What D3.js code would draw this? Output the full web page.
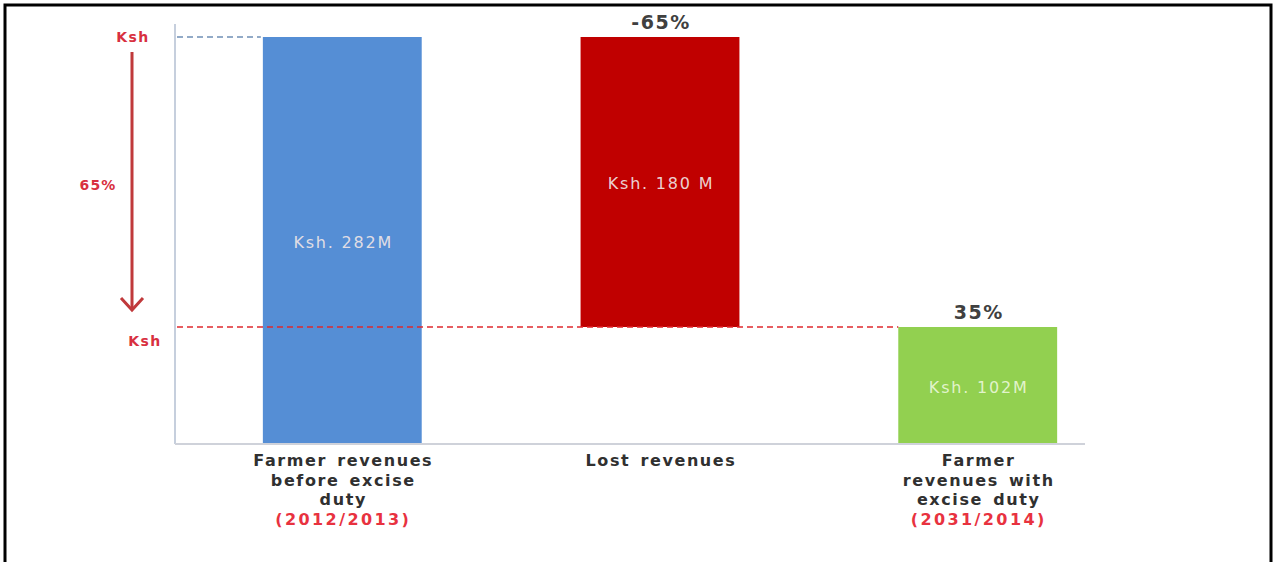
<!DOCTYPE html>
<html>
<head>
<meta charset="utf-8">
<script src="https://cdn.jsdelivr.net/npm/d3@7/dist/d3.min.js"></script>
<style>
  html, body { margin: 0; padding: 0; background: #fff; }
  svg { display: block; font-family: "DejaVu Sans", Verdana, sans-serif; }
</style>
</head>
<body>
<div id="chart"></div>
<script>
// chart data
const categories = ['before', 'lost', 'after'];
const labelLines = [
  ['Farmer revenues', 'before excise', 'duty'],
  ['Lost revenues'],
  ['Farmer', 'revenues with', 'excise duty']
];
const yearLabels = ['(2012/2013)', '', '(2031/2014)'];
const barValues = [282, 180, 102];   // Ksh millions
const barLabels = ['Ksh. 282M', 'Ksh. 180 M', 'Ksh. 102M'];
const pctLabels = ['', '-65%', '35%'];
const arrowLabel = '65%';
const colors = ['#558ed5', '#c00000', '#92d050'];

const width = 1275;
const height = 562;

const svg = d3.select('#chart')
  .append('svg')
  .attr('width', width)
  .attr('height', height);

// frame
svg.append('path')
  .attr('d', `M5,${height} V5 H1271 V${height}`)
  .attr('fill', 'none')
  .attr('stroke', '#000')
  .attr('stroke-width', 3);

// build waterfall pieces: start / end for each bar
const total = barValues[0];
const remaining = barValues[2];
const bars = [
  { key: categories[0], y0: 0, y1: total },
  { key: categories[1], y0: total - barValues[1], y1: total },
  { key: categories[2], y0: 0, y1: remaining }
];

const xScale = d3.scaleBand()
  .domain(categories)
  .range([104, 1216])
  .paddingInner(0.5)
  .paddingOuter(0.5);

// axis is truncated, the floor sits a bit above zero
const yScale = d3.scaleLinear()
  .domain([30, 282])
  .range([443, 37])
  .clamp(true);

const axisLeft = 175;
const axisRight = 1085;
const cx = d => xScale(d) + xScale.bandwidth() / 2;

// axes lines
svg.append('line')
  .attr('x1', axisLeft).attr('x2', axisLeft)
  .attr('y1', 24).attr('y2', yScale(30) + 1)
  .attr('stroke', '#c6cfdd').attr('stroke-width', 2);

svg.append('line')
  .attr('x1', axisLeft).attr('x2', axisRight)
  .attr('y1', yScale(30) + 1).attr('y2', yScale(30) + 1)
  .attr('stroke', '#cfd2da').attr('stroke-width', 2);

// bars
svg.append('g')
  .selectAll('rect')
  .data(bars)
  .join('rect')
  .attr('x', d => xScale(d.key))
  .attr('width', xScale.bandwidth())
  .attr('y', d => yScale(d.y1))
  .attr('height', d => yScale(d.y0) - yScale(d.y1))
  .attr('fill', (d, i) => colors[i]);

// dashed reference lines
svg.append('line')
  .attr('x1', axisLeft + 2).attr('x2', xScale(categories[0]) - 2)
  .attr('y1', yScale(total)).attr('y2', yScale(total))
  .attr('stroke', '#6f8fb5').attr('stroke-width', 1.5)
  .attr('stroke-dasharray', '6,4');

svg.append('line')
  .attr('x1', axisLeft + 2).attr('x2', xScale(categories[2]))
  .attr('y1', yScale(remaining)).attr('y2', yScale(remaining))
  .attr('stroke', '#e0282e').attr('stroke-width', 1.5)
  .attr('stroke-dasharray', '6,4');

// labels inside bars
svg.append('g')
  .selectAll('text')
  .data(bars)
  .join('text')
  .attr('x', d => cx(d.key) + 1)
  .attr('y', (d, i) => {
    if (i === 0) return yScale(d.y1) + 211;
    if (i === 1) return yScale(d.y1) + 152;
    return yScale(d.y1) + 66;
  })
  .attr('text-anchor', 'middle')
  .attr('font-size', 16)
  .attr('fill', (d, i) => i === 2 ? '#eaf7d8' : '#f0e6e6')
  .attr('fill-opacity', 0.92)
  .style('letter-spacing', '1.8px')
  .text((d, i) => barLabels[i]);

// percentage labels above bars
svg.append('g')
  .selectAll('text')
  .data(bars)
  .join('text')
  .attr('x', d => cx(d.key) + 1)
  .attr('y', d => yScale(d.y1) - 8)
  .attr('text-anchor', 'middle')
  .attr('font-size', 19)
  .attr('font-weight', 'bold')
  .attr('fill', '#404040')
  .style('letter-spacing', '1.5px')
  .text((d, i) => pctLabels[i]);

// category labels under the axis
const xLabels = svg.append('g')
  .selectAll('text')
  .data(categories)
  .join('text')
  .attr('y', 466)
  .attr('text-anchor', 'middle')
  .attr('font-size', 16)
  .attr('font-weight', 'bold')
  .attr('fill', '#303030')
  .style('letter-spacing', '1.6px')
  .style('word-spacing', '3px');

xLabels.each(function (d, i) {
  const t = d3.select(this);
  labelLines[i].forEach((line, j) => {
    t.append('tspan')
      .attr('x', cx(d) + 1)
      .attr('dy', j === 0 ? 0 : 19.5)
      .text(line);
  });
  if (yearLabels[i]) {
    t.append('tspan')
      .attr('x', cx(d) + 1)
      .attr('dy', 19.5)
      .attr('fill', '#e8323f')
      .style('letter-spacing', '2.4px')
      .text(yearLabels[i]);
  }
});

// left side arrow showing the drop
const arrowX = 132;
const arrowTop = yScale(total) + 15;
const arrowBottom = yScale(remaining) - 17;

svg.append('line')
  .attr('x1', arrowX).attr('x2', arrowX)
  .attr('y1', arrowTop).attr('y2', arrowBottom)
  .attr('stroke', '#c0393b').attr('stroke-width', 3);

svg.append('path')
  .attr('d', `M${arrowX - 11},${arrowBottom - 12} L${arrowX},${arrowBottom} L${arrowX + 11},${arrowBottom - 12}`)
  .attr('fill', 'none')
  .attr('stroke', '#c0393b')
  .attr('stroke-width', 3);

const redText = '#d8303f';

svg.append('text')
  .attr('x', 133).attr('y', yScale(total) + 5)
  .attr('text-anchor', 'middle')
  .attr('font-size', 14).attr('font-weight', 'bold')
  .attr('fill', redText)
  .style('letter-spacing', '1.5px')
  .text('Ksh');

svg.append('text')
  .attr('x', 145).attr('y', yScale(remaining) + 19)
  .attr('text-anchor', 'middle')
  .attr('font-size', 14).attr('font-weight', 'bold')
  .attr('fill', redText)
  .style('letter-spacing', '1.5px')
  .text('Ksh');

svg.append('text')
  .attr('x', 98).attr('y', 190)
  .attr('text-anchor', 'middle')
  .attr('font-size', 14).attr('font-weight', 'bold')
  .attr('fill', redText)
  .style('letter-spacing', '1.2px')
  .text(arrowLabel);
</script>
</body>
</html>
